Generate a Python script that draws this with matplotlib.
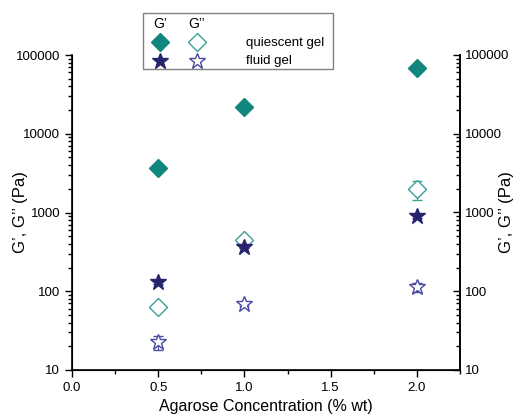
import numpy as np
import matplotlib
matplotlib.use('Agg')
import matplotlib.pyplot as plt
from matplotlib.lines import Line2D
from matplotlib.patches import Rectangle
from matplotlib.ticker import LogLocator, NullFormatter, MultipleLocator

plt.rcParams['font.family'] = ['Liberation Sans', 'DejaVu Sans']

# agarose concentration (% wt)
conc = [0.5, 1.0, 2.0]

# moduli (Pa): quiescent gel and fluid gel
quiescent_g1 = [3640, 21800, 69000]
quiescent_g2 = [63, 445, 1970]
quiescent_g2_err = [3, 20, 520]
fluid_g1 = [130, 368, 905]
fluid_g2 = [22.5, 68, 112]
fluid_g2_err = [4.5, 3, 14]
fluid_g1_err = [5, 15, 60]

teal = '#11867c'
teal_open = '#3a9f96'
navy = '#27246e'
navy_open = '#4b4aa3'

fig = plt.figure(figsize=(5.23, 4.20), dpi=100)
ax = fig.add_axes([72/523, 50/420, 388/523, 315/420])

ax.errorbar(conc, quiescent_g1, fmt='D', ms=9, color=teal, mec=teal)
ax.errorbar(conc, quiescent_g2, yerr=quiescent_g2_err, fmt='D', ms=9,
            mfc='white', mec=teal_open, mew=1.0, ecolor=teal_open, elinewidth=0.8, capsize=3.5)
ax.errorbar(conc, fluid_g1, yerr=fluid_g1_err, fmt='*', ms=12, color=navy, mec=navy,
            ecolor=navy, elinewidth=0.8, capsize=3.5)
ax.errorbar(conc, fluid_g2, yerr=fluid_g2_err, fmt='*', ms=12, mfc='white',
            mec=navy_open, mew=1.0, ecolor=navy_open, elinewidth=0.8, capsize=3.5)

ax.set_yscale('log')
ax.set_ylim(10, 100000)
ax.set_xlim(0, 2.25)
ax.xaxis.set_major_locator(MultipleLocator(0.5))
ax.xaxis.set_minor_locator(MultipleLocator(0.25))
ax.xaxis.set_major_formatter(plt.FormatStrFormatter('%.1f'))
ax.yaxis.set_major_locator(LogLocator(base=10, numticks=10))
ax.yaxis.set_minor_locator(LogLocator(base=10, subs=np.arange(2, 10), numticks=20))
ax.yaxis.set_minor_formatter(NullFormatter())
ax.yaxis.set_major_formatter(plt.FuncFormatter(lambda v, p: '%d' % round(v)))

ax.spines['top'].set_visible(False)
for s in ['left', 'right', 'bottom']:
    ax.spines[s].set_linewidth(1.2)
ax.tick_params(which='both', direction='out', labelsize=9.5, width=1.0)
ax.tick_params(which='major', length=5)
ax.tick_params(which='minor', length=3)
ax.set_xlabel('Agarose Concentration (% wt)', fontsize=11.5)
ax.set_ylabel('G’, G’’ (Pa)', fontsize=12)
ax.yaxis.set_label_coords(-0.113, 0.5)

# right axis mirrors the left one
ax2 = ax.twinx()
ax2.set_yscale('log')
ax2.set_ylim(10, 100000)
ax2.yaxis.set_major_locator(LogLocator(base=10, numticks=10))
ax2.yaxis.set_minor_locator(LogLocator(base=10, subs=np.arange(2, 10), numticks=20))
ax2.yaxis.set_minor_formatter(NullFormatter())
ax2.yaxis.set_major_formatter(plt.FuncFormatter(lambda v, p: '%d' % round(v)))
ax2.spines['top'].set_visible(False)
ax2.spines['right'].set_linewidth(1.2)
ax2.tick_params(which='both', direction='in', labelsize=9.5, width=1.0)
ax2.tick_params(which='major', length=5)
ax2.tick_params(which='minor', length=3)
ax2.set_ylabel('G’, G’’ (Pa)', fontsize=12)
ax2.yaxis.set_label_coords(1.10, 0.5)

# legend table drawn by hand
W, H = 523, 420
def fx(px):
    return px / W
def fy(py):
    return 1 - py / H

fig.add_artist(Rectangle((fx(143), fy(69)), fx(333) - fx(143), fy(13) - fy(69),
                         transform=fig.transFigure, fill=True, fc='white',
                         ec='#808080', lw=1.0, zorder=5))
fig.text(fx(160), fy(24), 'G’', ha='center', va='center', fontsize=10, zorder=6)
fig.text(fx(197), fy(24), 'G’’', ha='center', va='center', fontsize=10, zorder=6)
fig.text(fx(246), fy(43), 'quiescent gel', ha='left', va='center', fontsize=9.5, zorder=6)
fig.text(fx(246), fy(61), 'fluid gel', ha='left', va='center', fontsize=9.5, zorder=6)
fig.add_artist(Line2D([fx(160)], [fy(42)], marker='D', ms=9, color=teal,
                      transform=fig.transFigure, zorder=6))
fig.add_artist(Line2D([fx(197)], [fy(42)], marker='D', ms=9, mfc='white', mec=teal_open,
                      transform=fig.transFigure, zorder=6))
fig.add_artist(Line2D([fx(160)], [fy(61)], marker='*', ms=12, color=navy,
                      transform=fig.transFigure, zorder=6))
fig.add_artist(Line2D([fx(197)], [fy(61)], marker='*', ms=12, mfc='white', mec=navy_open,
                      transform=fig.transFigure, zorder=6))

fig.savefig('out.png', dpi=100)
